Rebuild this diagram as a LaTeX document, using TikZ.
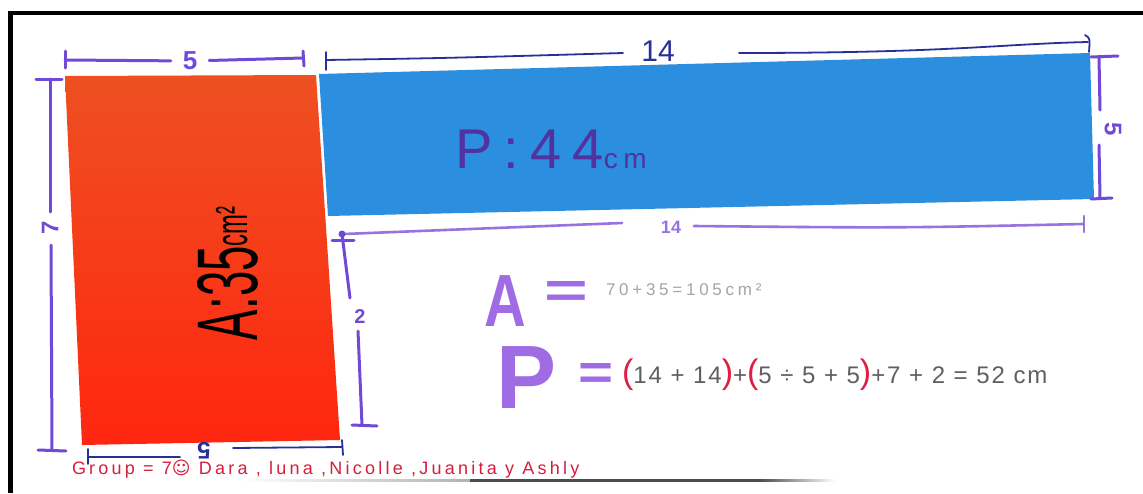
\documentclass[tikz,border=0pt]{standalone}
\usepackage{fontspec}
\setmainfont{Liberation Sans}
\newfontfamily\symfont{DejaVu Sans}
\definecolor{redtop}{RGB}{238,80,34}
\definecolor{redmid}{RGB}{245,98,40}
\definecolor{redbot}{RGB}{255,38,16}
\definecolor{bluefill}{RGB}{44,142,222}
\definecolor{marker}{RGB}{112,74,214}
\definecolor{markerlight}{RGB}{150,115,225}
\definecolor{pen}{RGB}{40,48,150}
\definecolor{bigpurple}{RGB}{160,108,228}
\definecolor{pencil}{RGB}{95,95,95}
\definecolor{lightpencil}{RGB}{165,165,165}
\definecolor{inkred}{RGB}{214,30,60}
\definecolor{parenred}{RGB}{222,30,70}
\definecolor{bluetext}{RGB}{80,50,160}
\begin{document}
\begin{tikzpicture}[x=1pt,y=-1pt,
  dimmark/.style={draw=marker,line width=3pt,line cap=round},
  dimlight/.style={draw=markerlight,line width=2.6pt,line cap=round},
  dimpen/.style={draw=pen,line width=1.8pt,line cap=round},
  lbl/.style={inner sep=0pt,outer sep=0pt}]
\useasboundingbox (0,0) rectangle (1143,493);
\fill[white] (0,0) rectangle (1143,493);
% frame
\fill[black] (8,11) rectangle (13,493);
\fill[black] (8,11) rectangle (1143,15);
% shadow line under names
\shade[left color=white,right color=gray!60] (240,479) rectangle (470,481);
\fill[gray!60!black] (470,479) rectangle (760,481.5);
\shade[left color=gray!60!black,right color=white] (760,479) rectangle (835,481.5);
% red rectangle
\shade[top color=redtop,middle color=redmid,bottom color=redbot]
  (65,76) -- (316,75) -- (340,440) -- (82,445) -- cycle;
% blue rectangle
\fill[bluefill] (319,74) -- (1090,53) -- (1094,199) -- (328,216) -- cycle;

% texts inside rectangles
\node[lbl,rotate=90,anchor=base west,text=black] (area) at (257,340)
  {\scalebox{0.53}[1]{\fontsize{86}{86}\selectfont A:35\raisebox{10pt}{\fontsize{45}{45}\selectfont cm²}}};
\node[lbl,anchor=base west,text=bluetext,font=\fontsize{56}{56}\selectfont\addfontfeatures{LetterSpace=20}] (perim) at (455,168)
  {P:44{\fontsize{28}{28}\selectfont\addfontfeatures{LetterSpace=20}cm}};

% top "5"
\coordinate (t5a) at (65,60);
\coordinate (t5b) at (303,58);
\node[lbl,outer sep=12pt,text=marker,font=\bfseries\fontsize{26}{26}\selectfont] (t5) at (190,61) {5};
\draw[dimmark] (t5a) -- (t5);
\draw[dimmark] (t5) -- (t5b);
\draw[dimmark] (65,51) -- (65,68);
\draw[dimmark] (303,51) -- (304,66);

% top "14"
\node[lbl,text=pen,font=\fontsize{30}{30}\selectfont] (t14) at (658,51) {14};
\coordinate (t14a) at (326,60);
\coordinate (t14l) at (623,53);
\coordinate (t14r) at (739,53);
\coordinate (t14b) at (1088,42);
\draw[dimpen] (t14a) .. controls (450,58) .. (t14l);
\draw[dimpen] (t14r) .. controls (950,53) and (1000,44) .. (t14b);
\draw[dimpen] (326,52) -- (326,70);
\draw[dimpen] (1085,35) .. controls (1090,38) .. (1089,52);

% right "5"
\node[lbl,rotate=-90,text=marker,font=\bfseries\fontsize{24}{24}\selectfont] (r5) at (1113,129) {5};
\coordinate (r5a) at (1099,57);
\coordinate (r5b) at (1100,198);
\draw[dimmark] (r5a) -- (1100,110);
\draw[dimmark] (1099,145) -- (r5b);
\draw[dimmark] (1091,57) -- (1118,56);
\draw[dimmark] (1091,199) -- (1112,198);

% bottom "14"
\node[lbl,text=markerlight,font=\bfseries\fontsize{18}{18}\selectfont] (b14) at (671,227) {14};
\coordinate (b14a) at (344,234);
\coordinate (b14l) at (622,223);
\coordinate (b14r) at (694,226);
\coordinate (b14b) at (1083,224);
\draw[dimlight] (b14a) -- (b14l);
\draw[dimlight] (b14r) .. controls (900,228) .. (b14b);
\draw[dimlight] (1084,216) -- (1084,232);

% "2"
\node[lbl,text=marker,font=\bfseries\fontsize{20}{20}\selectfont] (d2) at (360,317) {2};
\coordinate (d2a) at (342,234);
\coordinate (d2b) at (362,425);
\draw[dimmark] (d2a) -- (350,298);
\draw[dimmark] (358,331) -- (d2b);
\draw[dimmark] (332,240) -- (354,240);
\draw[dimmark] (352,425) -- (377,426);
\fill[marker] (d2a) circle (3.5pt);

% left "7"
\node[lbl,rotate=90,text=marker,font=\bfseries\fontsize{24}{24}\selectfont] (l7) at (50,228) {7};
\coordinate (l7a) at (50,79);
\coordinate (l7b) at (52,449);
\draw[dimmark] (l7a) -- (50,212);
\draw[dimmark] (51,245) -- (l7b);
\draw[dimmark] (36,79) -- (62,79);
\draw[dimmark] (38,450) -- (66,451);

% bottom "5"
\node[lbl,rotate=180,text=pen,font=\bfseries\fontsize{24}{24}\selectfont] (b5) at (204,451) {5};
\coordinate (b5a) at (88,457);
\coordinate (b5b) at (342,447);
\draw[dimpen] (b5a) -- (180,457);
\draw[dimpen] (233,448) -- (b5b);
\draw[dimpen] (88,449) -- (88,464);
\draw[dimpen] (342,440) -- (343,455);

% formulas
\node[lbl,text=bigpurple,font=\bfseries\fontsize{74}{74}\selectfont] (bigA) at (505,301) {\scalebox{0.78}[1]{A}};
\node[lbl,text=bigpurple,font=\bfseries\fontsize{50}{50}\selectfont] (eqA) at (566,294) {\scalebox{1.5}[1]{=}};
\node[lbl,anchor=west,text=lightpencil,font=\fontsize{17}{17}\selectfont\addfontfeatures{LetterSpace=22}] (formA) at (606,290) {70+35=105cm²};

\node[lbl,text=bigpurple,font=\bfseries\fontsize{90}{90}\selectfont] (bigP) at (527,378) {P};
\node[lbl,text=bigpurple,font=\bfseries\fontsize{50}{50}\selectfont] (eqP) at (596,376) {\scalebox{1.2}[1]{=}};
\node[lbl,anchor=base west,text=pencil,font=\fontsize{24}{24}\selectfont\addfontfeatures{LetterSpace=8}] (formP) at (622,383)
  {\textcolor{parenred}{\fontsize{34}{34}\selectfont(}14 + 14\textcolor{parenred}{\fontsize{34}{34}\selectfont)}+\textcolor{parenred}{\fontsize{34}{34}\selectfont(}5 ÷ 5 + 5\textcolor{parenred}{\fontsize{34}{34}\selectfont)}+7 + 2 = 52 cm};

% names
\node[lbl,anchor=base west,text=inkred,font=\fontsize{18}{18}\selectfont\addfontfeatures{LetterSpace=18}] (names) at (72,474)
  {Group = 7{\symfont ☺} Dara , luna ,Nicolle ,Juanita y Ashly};
\end{tikzpicture}
\end{document}
